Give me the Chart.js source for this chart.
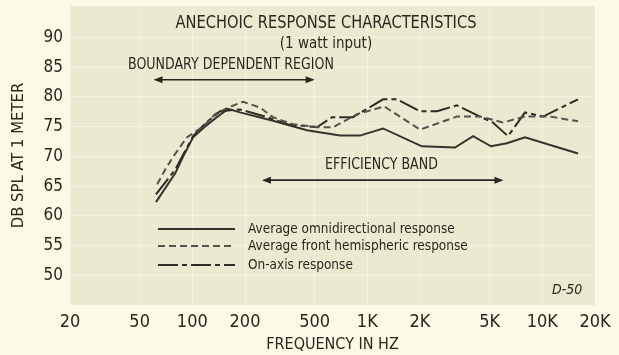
<!DOCTYPE html>
<html>
<head>
<meta charset="utf-8">
<title>Anechoic Response Characteristics</title>
<script src="https://cdn.jsdelivr.net/npm/chart.js@4/dist/chart.umd.min.js"></script>
<style>
    html, body { margin: 0; padding: 0; background: #fbfae6; }
    #wrap { width: 619px; height: 355px; }
</style>
</head>
<body>
<div id="wrap"><canvas id="responseChart" width="619" height="355"></canvas></div>
<script>
// Axis ticks
const freqTicks = [20, 50, 100, 200, 500, 1000, 2000, 5000, 10000, 20000];
const freqLabels = ['20', '50', '100', '200', '500', '1K', '2K', '5K', '10K', '20K'];
const splTicks = [50, 55, 60, 65, 70, 75, 80, 85, 90];

// Average omnidirectional response (Hz / dB SPL)
const omniFreq = [62, 80, 88, 101, 118, 138, 160, 187, 289, 452, 698, 908, 1230, 2050, 3170, 4020, 5090, 6280, 7960, 16000];
const omniDb = [62.3, 67.2, 69.8, 73.2, 75.0, 76.6, 78.0, 77.4, 76.0, 74.4, 73.5, 73.5, 74.7, 71.7, 71.5, 73.4, 71.7, 72.2, 73.2, 70.5];

// Average front hemispheric response
const frontFreq = [63, 70, 78, 93, 115, 135, 160, 195, 244, 289, 376, 537, 636, 873, 1250, 2000, 3250, 4410, 5960, 7960, 11070, 16000];
const frontDb = [65.3, 67.8, 70.0, 73.2, 75.0, 77.1, 78.2, 79.2, 78.2, 76.6, 75.4, 74.9, 74.9, 77.1, 78.4, 74.5, 76.7, 76.7, 75.7, 76.7, 76.7, 75.9];

// On-axis response
const axisFreq = [62, 80, 101, 118, 144, 187, 267, 348, 515, 628, 828, 1230, 1478, 2000, 2500, 3250, 4410, 5220, 6370, 7960, 10100, 16000];
const axisDb = [63.6, 67.8, 73.4, 75.5, 77.6, 77.9, 76.6, 75.4, 74.9, 76.6, 76.6, 79.6, 79.6, 77.6, 77.6, 78.6, 76.7, 75.7, 73.4, 77.4, 76.7, 79.6];

const FONT = '"Liberation Sans Narrow", "DejaVu Sans Condensed", "Liberation Sans", sans-serif';
const INK = '#29281f';
const PANEL = '#ece9d1';
const PAGE = '#fbfae7';

function toPoints(freqs, dbs) {
    return freqs.map((f, i) => ({ x: f, y: dbs[i] }));
}

const datasets = [
    {
        label: 'Average omnidirectional response',
        data: toPoints(omniFreq, omniDb),
        borderColor: '#35342c',
        borderWidth: 2,
        borderDash: []
    },
    {
        label: 'Average front hemispheric response',
        data: toPoints(frontFreq, frontDb),
        borderColor: '#55544c',
        borderWidth: 2,
        borderDash: [7, 4]
    },
    {
        label: 'On-axis response',
        data: toPoints(axisFreq, axisDb),
        borderColor: '#2c2b24',
        borderWidth: 2,
        borderDash: [20, 4, 5, 4]
    }
];

// Range arrows (Hz) and their dB level
const boundaryRange = [60, 500, 82.9];
const efficiencyRange = [250, 6000, 66.0];

function drawArrow(ctx, x1, x2, y) {
    ctx.beginPath();
    ctx.moveTo(x1 + 6, y);
    ctx.lineTo(x2 - 6, y);
    ctx.stroke();
    [[x1, 1], [x2, -1]].forEach(([x, dir]) => {
        ctx.beginPath();
        ctx.moveTo(x, y);
        ctx.lineTo(x + dir * 9, y - 3.5);
        ctx.lineTo(x + dir * 9, y + 3.5);
        ctx.closePath();
        ctx.fill();
    });
}

// tall condensed lettering: squeeze the text horizontally
function squeezedText(ctx, text, x, y, size, squeeze) {
    ctx.save();
    ctx.font = size + 'px ' + FONT;
    ctx.translate(x, y);
    ctx.scale(squeeze, 1);
    ctx.fillText(text, 0, 0);
    ctx.restore();
}

// no extra room for half tick labels: the panel runs to the chart edges
function noEdgePadding(s) {
    s.paddingTop = 0;
    s.paddingBottom = 0;
    s.paddingLeft = 0;
    s.paddingRight = 0;
}

const panelPlugin = {
    id: 'panel',
    beforeDraw(chart) {
        const { ctx, chartArea: a } = chart;
        ctx.save();
        ctx.fillStyle = PAGE;
        ctx.fillRect(0, 0, chart.width, chart.height);
        ctx.fillStyle = PANEL;
        ctx.fillRect(a.left, a.top, a.right - a.left, a.bottom - a.top);
        ctx.restore();
    }
};

const notesPlugin = {
    id: 'notes',
    afterDraw(chart) {
        const { ctx } = chart;
        const xs = chart.scales.x, ys = chart.scales.y;
        ctx.save();
        ctx.fillStyle = INK;
        ctx.strokeStyle = INK;
        ctx.textBaseline = 'middle';

        // headings
        ctx.textAlign = 'center';
        squeezedText(ctx, 'ANECHOIC RESPONSE CHARACTERISTICS', 326, 23, 17.5, 0.93);
        squeezedText(ctx, '(1 watt input)', 326, 44, 15, 1);

        ctx.textAlign = 'left';
        squeezedText(ctx, 'BOUNDARY DEPENDENT REGION', 128, 65, 16.5, 0.85);
        squeezedText(ctx, 'EFFICIENCY BAND', 325, 165, 16.5, 0.85);

        // range arrows
        ctx.lineWidth = 1.6;
        drawArrow(ctx, xs.getPixelForValue(boundaryRange[0]), xs.getPixelForValue(boundaryRange[1]), ys.getPixelForValue(boundaryRange[2]));
        drawArrow(ctx, xs.getPixelForValue(efficiencyRange[0]), xs.getPixelForValue(efficiencyRange[1]), ys.getPixelForValue(efficiencyRange[2]));

        // legend
        const rows = [229, 246, 265];
        chart.data.datasets.forEach((ds, i) => {
            const y = rows[i];
            ctx.save();
            ctx.strokeStyle = ds.borderColor;
            ctx.lineWidth = ds.borderWidth;
            ctx.setLineDash(ds.borderDash);
            ctx.beginPath();
            ctx.moveTo(158, y);
            ctx.lineTo(235, y);
            ctx.stroke();
            ctx.restore();
            squeezedText(ctx, ds.label, 248, y, 14.5, 0.93);
        });

        ctx.font = 'italic 14px ' + FONT;
        ctx.fillText('D-50', 552, 290);
        ctx.restore();
    }
};

const gridColor = 'rgba(255, 255, 246, 0.45)';

new Chart(document.getElementById('responseChart'), {
    type: 'line',
    data: { datasets: datasets },
    options: {
        responsive: false,
        animation: false,
        devicePixelRatio: 1,
        layout: { padding: { top: 6, right: 24, left: 0, bottom: 0 } },
        elements: { point: { radius: 0 }, line: { tension: 0 } },
        plugins: {
            legend: { display: false },
            tooltip: { enabled: false }
        },
        scales: {
            x: {
                type: 'logarithmic',
                min: 20,
                max: 20000,
                afterBuildTicks: s => { s.ticks = freqTicks.map(v => ({ value: v })); },
                afterFit: s => { s.height = 50; noEdgePadding(s); },
                ticks: {
                    callback: (v, i) => freqLabels[i],
                    autoSkip: false,
                    maxRotation: 0,
                    padding: 7,
                    color: INK,
                    font: { family: FONT, size: 18 }
                },
                grid: { color: gridColor, drawTicks: false },
                border: { display: false },
                title: {
                    display: true,
                    text: 'FREQUENCY IN HZ',
                    color: INK,
                    font: { family: FONT, size: 16 },
                    padding: { top: 0, bottom: 1 }
                }
            },
            y: {
                min: 45,
                max: 95.3,
                afterBuildTicks: s => { s.ticks = splTicks.map(v => ({ value: v })); },
                afterFit: s => { s.width = 70; noEdgePadding(s); },
                ticks: {
                    padding: 7,
                    color: INK,
                    font: { family: FONT, size: 17 }
                },
                grid: { color: gridColor, drawTicks: false },
                border: { display: false },
                title: {
                    display: true,
                    text: 'DB SPL AT 1 METER',
                    color: INK,
                    font: { family: FONT, size: 16.5 },
                    padding: { top: 9, bottom: 0 }
                }
            }
        }
    },
    plugins: [panelPlugin, notesPlugin]
});
</script>
</body>
</html>
